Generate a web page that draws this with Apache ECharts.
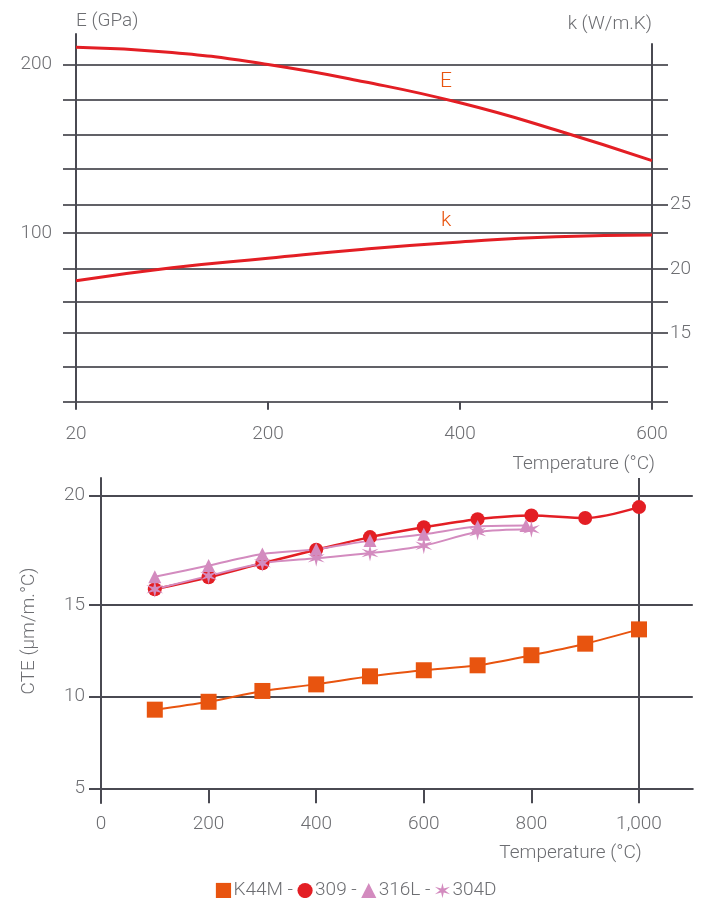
<!DOCTYPE html>
<html>
<head>
<meta charset="utf-8">
<script src="https://cdn.jsdelivr.net/npm/echarts@6/dist/echarts.min.js"></script>
<style>
  html, body { margin: 0; padding: 0; background: #fff; }
  #chart { width: 712px; height: 898px; }
</style>
</head>
<body>
<div id="chart"></div>
<script>
// top panel: E and k against temperature (non linear temperature scale, so categories)
const tempTop = ['20', '110', '200', '300', '400', '500', '600'];
const modulusE = [210.1, 207.1, 199.9, 189.7, 177.2, 161.1, 142.9];
const conductivityK = [19.09, 20.10, 20.83, 21.53, 22.09, 22.50, 22.64];
const gridLevelsE = [0, 21, 41, 59, 79, 100, 117, 138, 158, 179, 200];

// bottom panel: CTE
const tempCte = [100, 200, 300, 400, 500, 600, 700, 800, 900, 1000];
const cteK44M = [9.29, 9.72, 10.31, 10.67, 11.11, 11.44, 11.71, 12.26, 12.89, 13.67];
const cte309 = [15.72, 16.27, 16.91, 17.52, 18.10, 18.55, 18.92, 19.09, 18.97, 19.47];
const temp316L = [100, 200, 300, 400, 500, 600, 700, 790];
const cte316L = [16.29, 16.80, 17.33, 17.55, 17.94, 18.23, 18.58, 18.63];
const temp304D = [100, 200, 300, 400, 500, 600, 700, 800];
const cte304D = [15.72, 16.33, 16.91, 17.14, 17.37, 17.71, 18.33, 18.46];
const cteTicks = [0, 200, 400, 600, 800, 1000];

const FONT = 'Roboto, "Liberation Sans", sans-serif';
const GRAY_TEXT = '#6d6e72';
const AXIS = '#4a4a52';
const GRID = '#616167';
const ORANGE = '#e8540f';
const RED = '#e31e24';
const PINK = '#d38bbf';
const STAR = 'path://M10 0L11.5 7.4L18.66 5L13 10L18.66 15L11.5 12.6L10 20L8.5 12.6L1.34 15L7 10L1.34 5L8.5 7.4Z';

const txt = { color: GRAY_TEXT, fontFamily: FONT, fontWeight: 300, fontSize: 19 };
const zip = (xs, ys) => xs.map((x, i) => [x, ys[i]]);
const evenIdx = i => i % 2 === 0;

const chart = echarts.init(document.getElementById('chart'));

chart.setOption({
  animation: false,
  textStyle: { fontFamily: FONT },
  grid: [
    { left: 63, width: 605, top: 64.3, height: 337.4 },
    { left: 76, width: 576, top: 34, height: 367.7 },
    { left: 76, width: 576, top: 44, height: 357.7 },
    { left: 101, width: 591.8, top: 605, height: 183.3 },
    { left: 101, width: 591.8, top: 478, height: 127 },
    { left: 101, width: 591.8, top: 478, height: 325 }
  ],
  xAxis: [
    { gridIndex: 0, type: 'value', min: 0, max: 1, show: false },
    {
      gridIndex: 1, type: 'category', data: tempTop, boundaryGap: false,
      axisLine: { show: false },
      axisTick: { interval: evenIdx, length: 8, lineStyle: { color: AXIS, width: 2 } },
      axisLabel: Object.assign({ interval: evenIdx, margin: 23 }, txt),
      name: 'Temperature (°C)', nameLocation: 'end', nameGap: 3,
      nameTextStyle: Object.assign({ align: 'right', verticalAlign: 'top', padding: [53, 0, 0, 0] }, txt)
    },
    { gridIndex: 2, type: 'category', data: tempTop, boundaryGap: false, show: false },
    {
      gridIndex: 3, type: 'value', min: 0, max: 1100,
      axisLine: { show: true, lineStyle: { color: AXIS, width: 2 } },
      axisTick: { customValues: cteTicks, length: 15, lineStyle: { color: AXIS, width: 2 } },
      axisLabel: Object.assign({ customValues: cteTicks, margin: 26,
        formatter: v => v.toLocaleString('en-US') }, txt),
      splitLine: { show: false },
      name: 'Temperature (°C)', nameLocation: 'end', nameGap: -51,
      nameTextStyle: Object.assign({ align: 'right', verticalAlign: 'top', padding: [55, 0, 0, 0] }, txt)
    },
    { gridIndex: 4, type: 'value', min: 0, max: 1100, show: false },
    {
      gridIndex: 5, type: 'value', min: 0, max: 1100,
      axisLine: { show: false },
      axisTick: { show: false, customValues: [1000] },
      axisLabel: { show: false },
      splitLine: { show: true, lineStyle: { color: AXIS, width: 2 } }
    }
  ],
  yAxis: [
    {
      gridIndex: 0, type: 'value', min: 0, max: 200,
      axisLine: { show: false },
      axisTick: { show: false, customValues: gridLevelsE },
      axisLabel: { show: false },
      splitLine: { show: true, lineStyle: { color: GRID, width: 2 } }
    },
    {
      gridIndex: 1, type: 'value', min: 0, max: 218,
      axisLine: { show: true, lineStyle: { color: AXIS, width: 2 } },
      axisTick: { show: false },
      axisLabel: Object.assign({ customValues: [100, 200], margin: 24 }, txt),
      splitLine: { show: false },
      name: 'E (GPa)', nameLocation: 'end', nameGap: 13,
      nameTextStyle: Object.assign({ align: 'left', verticalAlign: 'middle' }, txt)
    },
    {
      gridIndex: 2, type: 'value', position: 'right', min: 9.71, max: 37.44,
      axisLine: { show: true, lineStyle: { color: AXIS, width: 2 } },
      axisTick: { show: false },
      axisLabel: Object.assign({ customValues: [15, 20, 25], margin: 18 }, txt),
      splitLine: { show: false },
      name: 'k (W/m.K)', nameLocation: 'end', nameGap: 20,
      nameTextStyle: Object.assign({ align: 'right', verticalAlign: 'middle' }, txt)
    },
    {
      gridIndex: 3, type: 'value', min: 5, max: 15, interval: 5,
      axisLine: { show: false },
      axisTick: { show: true, length: 12, lineStyle: { color: AXIS, width: 2 } },
      axisLabel: Object.assign({ margin: 16 }, txt),
      splitLine: { show: true, lineStyle: { color: AXIS, width: 2 } }
    },
    {
      gridIndex: 4, type: 'value', min: 15, max: 20.8,
      axisLine: { show: false },
      axisTick: { show: true, customValues: [20], length: 12, lineStyle: { color: AXIS, width: 2 } },
      axisLabel: Object.assign({ customValues: [20], margin: 16 }, txt),
      splitLine: { show: true, lineStyle: { color: AXIS, width: 2 } }
    },
    {
      gridIndex: 5, type: 'value', min: 0, max: 1,
      axisLine: { show: true, lineStyle: { color: AXIS, width: 2 } },
      axisTick: { show: false }, axisLabel: { show: false }, splitLine: { show: false }
    }
  ],
  legend: {
    data: ['K44M', '309', '316L', '304D'],
    left: 'center', top: 876,
    itemWidth: 16, itemHeight: 19, itemGap: 4,
    lineStyle: { width: 0, opacity: 0 },
    formatter: name => name === '304D' ? name : name + ' -',
    textStyle: Object.assign({ padding: [0, 0, 0, -3] }, txt)
  },
  graphic: [
    { type: 'text', left: 440, top: 71, style: { text: 'E', fill: ORANGE, font: '300 21px ' + FONT } },
    { type: 'text', left: 441, top: 210, style: { text: 'k', fill: ORANGE, font: '300 21px ' + FONT } },
    { type: 'text', x: 29, y: 631, rotation: Math.PI / 2,
      style: { text: 'CTE (µm/m.°C)', fill: GRAY_TEXT, font: '300 19px ' + FONT, align: 'center', verticalAlign: 'middle' } }
  ],
  series: [
    {
      name: 'E', type: 'line', xAxisIndex: 1, yAxisIndex: 1, data: modulusE,
      smooth: true, showSymbol: false, lineStyle: { color: RED, width: 3 }
    },
    {
      name: 'k', type: 'line', xAxisIndex: 2, yAxisIndex: 2, data: conductivityK,
      smooth: true, showSymbol: false, lineStyle: { color: RED, width: 3 }
    },
    {
      name: 'K44M', type: 'line', xAxisIndex: 3, yAxisIndex: 3, data: zip(tempCte, cteK44M),
      smooth: 0.3, symbol: 'rect', symbolSize: 16,
      itemStyle: { color: ORANGE }, lineStyle: { color: ORANGE, width: 2 }
    },
    {
      name: '309', type: 'line', xAxisIndex: 4, yAxisIndex: 4, data: zip(tempCte, cte309),
      smooth: 0.3, symbol: 'circle', symbolSize: 14,
      itemStyle: { color: RED }, lineStyle: { color: RED, width: 2.5 }
    },
    {
      name: '316L', type: 'line', xAxisIndex: 4, yAxisIndex: 4, data: zip(temp316L, cte316L),
      smooth: 0.3, symbol: 'triangle', symbolSize: 13,
      itemStyle: { color: PINK }, lineStyle: { color: PINK, width: 2 }
    },
    {
      name: '304D', type: 'line', xAxisIndex: 4, yAxisIndex: 4, data: zip(temp304D, cte304D),
      smooth: 0.3, symbol: STAR, symbolSize: 17,
      itemStyle: { color: PINK }, lineStyle: { color: PINK, width: 2 }
    }
  ]
});
</script>
</body>
</html>
